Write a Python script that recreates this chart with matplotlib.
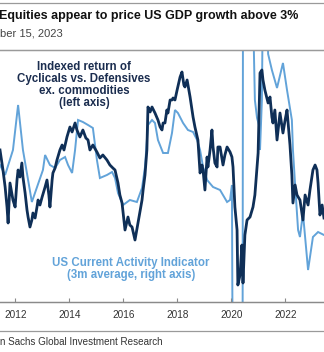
import numpy as np
import matplotlib
matplotlib.use("Agg")
import matplotlib.pyplot as plt
from matplotlib.lines import Line2D

plt.rcParams['font.family'] = ['Liberation Sans', 'DejaVu Sans']

# Indexed return of Cyclicals vs. Defensives ex. commodities (left axis)
cyc_year = [2011.43, 2011.54, 2011.62, 2011.69, 2011.73, 2011.80, 2011.91, 2011.99, 2012.06, 2012.10,
            2012.17, 2012.24, 2012.28, 2012.36, 2012.43, 2012.47, 2012.54, 2012.61, 2012.65, 2012.73,
            2012.80, 2012.84, 2012.91, 2012.99, 2013.10, 2013.17, 2013.24, 2013.28, 2013.36, 2013.39,
            2013.47, 2013.54, 2013.65, 2013.73, 2013.80, 2013.91, 2014.02, 2014.10, 2014.21, 2014.28,
            2014.39, 2014.50, 2014.61, 2014.69, 2014.76, 2014.87, 2015.02, 2015.13, 2015.24, 2015.39,
            2015.50, 2015.61, 2015.69, 2015.80, 2015.87, 2015.95, 2016.06, 2016.17, 2016.24, 2016.32,
            2016.43, 2016.54, 2016.61, 2016.69, 2016.73, 2016.80, 2016.87, 2016.91, 2016.99, 2017.06,
            2017.17, 2017.28, 2017.36, 2017.43, 2017.47, 2017.54, 2017.61, 2017.65, 2017.73, 2017.80,
            2017.84, 2017.91, 2017.99, 2018.10, 2018.17, 2018.24, 2018.28, 2018.36, 2018.47, 2018.58,
            2018.65, 2018.76, 2018.84, 2018.91, 2018.95, 2019.02, 2019.10, 2019.13, 2019.21, 2019.28,
            2019.32, 2019.39, 2019.47, 2019.50, 2019.58, 2019.69, 2019.76, 2019.84, 2019.95, 2020.02,
            2020.06, 2020.13, 2020.21, 2020.24, 2020.32, 2020.39, 2020.43, 2020.50, 2020.58, 2020.69,
            2020.80, 2020.87, 2020.95, 2020.99, 2021.06, 2021.13, 2021.17, 2021.24, 2021.36, 2021.43,
            2021.50, 2021.54, 2021.61, 2021.69, 2021.80, 2021.91, 2021.99, 2022.06, 2022.17, 2022.24,
            2022.28, 2022.36, 2022.43, 2022.54, 2022.65, 2022.73, 2022.84, 2022.91, 2023.02, 2023.10,
            2023.17, 2023.21, 2023.28, 2023.36, 2023.43]
cyc_value = [108.0, 103.0, 98.75, 93.75, 89.75, 99.75, 95.5, 93.75, 100.5, 103.0,
             101.25, 104.75, 101.25, 97.25, 93.0, 91.25, 88.75, 90.5, 92.25, 91.0,
             93.75, 95.5, 94.25, 96.25, 98.75, 100.5, 96.75, 93.75, 100.5, 102.25,
             103.5, 105.5, 108.0, 109.25, 108.0, 111.25, 113.75, 112.5, 114.75, 113.0,
             111.25, 113.0, 111.0, 110.5, 108.0, 109.25, 107.5, 106.0, 106.75, 105.5,
             104.25, 103.5, 103.0, 99.75, 96.75, 94.75, 88.0, 91.25, 89.25, 88.75,
             85.5, 89.75, 92.5, 95.5, 98.0, 101.75, 108.0, 118.75, 117.5, 118.75,
             117.25, 115.5, 113.75, 113.0, 114.75, 114.75, 118.0, 117.25, 120.5, 120.5,
             121.0, 120.5, 123.0, 126.25, 127.5, 124.25, 123.75, 125.5, 121.25, 116.25,
             113.75, 110.5, 102.25, 104.25, 103.0, 98.0, 106.25, 103.75, 108.0, 113.0,
             108.75, 104.75, 103.75, 108.75, 108.75, 104.25, 106.75, 108.75, 107.5, 106.25,
             103.75, 93.75, 88.0, 74.25, 76.75, 84.25, 74.75, 86.75, 90.5, 91.25,
             93.75, 96.75, 103.75, 107.25, 127.25, 128.0, 125.5, 123.0, 119.75, 121.25,
             116.25, 114.75, 118.0, 110.5, 117.25, 112.25, 115.5, 118.0, 109.25, 101.75,
             94.75, 99.25, 96.75, 95.5, 90.5, 96.75, 94.25, 98.0, 103.0, 104.25,
             103.0, 99.75, 91.75, 94.25, 91.0]

# US Current Activity Indicator, 3m average (right axis)
cai_year = [2011.43, 2011.62, 2011.91, 2012.10, 2012.28, 2012.61, 2013.02, 2013.10, 2013.28, 2013.47,
            2013.65, 2013.84, 2013.95, 2014.10, 2014.21, 2014.32, 2014.50, 2014.69, 2014.87, 2015.02,
            2015.13, 2015.39, 2015.58, 2015.69, 2015.80, 2015.99, 2016.24, 2016.50, 2016.69, 2016.80,
            2016.91, 2017.06, 2017.17, 2017.28, 2017.47, 2017.65, 2017.80, 2017.91, 2018.02, 2018.21,
            2018.39, 2018.58, 2018.73, 2018.84, 2018.95, 2019.10, 2019.32, 2019.58, 2019.84, 2019.95,
            2020.02, 2020.06, 2020.41, 2020.43, 2020.78, 2020.87, 2020.95, 2021.02, 2021.06, 2021.13,
            2021.17, 2021.32, 2021.36, 2021.50, 2021.69, 2021.91, 2022.06, 2022.24, 2022.28, 2022.36,
            2022.47, 2022.54, 2022.65, 2022.84, 2023.02, 2023.21, 2023.43]
cai_value = [2.85, 2.35, 3.6, 5.85, 3.6, 1.0, 2.6, 3.35, 2.85, 2.7,
             3.1, 3.25, 2.85, 2.45, 3.6, 5.1, 5.0, 4.85, 4.7, 3.1,
             2.2, 2.35, 2.5, 2.2, 1.45, 0.85, 1.1, 1.0, 1.7, 2.75,
             4.85, 5.1, 4.95, 4.1, 3.45, 3.45, 4.45, 5.6, 5.45, 4.95,
             4.6, 4.5, 4.1, 3.6, 2.75, 2.1, 1.75, 1.6, 1.0, 1.1,
             1.85, -12.0, -12.0, 12.0, 12.0, 6.1, 5.2, 4.85, 3.6, 6.1,
             12.0, 12.0, 8.4, 7.6, 6.7, 7.95, 6.6, 5.1, 3.6, 1.85,
             -0.4, -0.75, 0.45, -2.4, -0.75, -0.5, -0.65]

years = [2012, 2014, 2016, 2018, 2020, 2022]

# text as it is visible in the cropped reference
title = "Equities appear to price US GDP growth above 3%"
subtitle = "ber 15, 2023"
source = "n Sachs Global Investment Research"

dark = '#0f2f57'
light = '#62a3d9'
grey = '#9a9a9a'

fig = plt.figure(figsize=(3.24, 3.52), dpi=100)
ax = fig.add_axes([0.0, 0.142, 1.0, 0.716])
ax2 = ax.twinx()

ax2.plot(cai_year, cai_value, color=light, lw=1.4, solid_joinstyle='miter')
ax.plot(cyc_year, cyc_value, color=dark, lw=2.0)
ax.set_zorder(ax2.get_zorder() + 1)
ax.patch.set_visible(False)

ax.set_xlim(2011.43, 2023.43)
ax.set_ylim(70, 133)
ax2.set_ylim(-4, 8.6)

for a in (ax, ax2):
    a.spines['left'].set_visible(False)
    a.spines['right'].set_visible(False)
    a.spines['top'].set_color(grey)
    a.spines['top'].set_linewidth(0.9)
    a.spines['bottom'].set_color('#8a8a8a')
    a.spines['bottom'].set_linewidth(0.9)
    a.set_yticks([])

ax.set_xticks(years)
ax.set_xticklabels([str(y) for y in years])
ax.tick_params(axis='x', direction='in', length=3, color='#8a8a8a', labelsize=7.2,
               labelcolor='#333333', pad=6)

ax.text(0.259, 0.861, "Indexed return of\nCyclicals vs. Defensives\nex. commodities\n(left axis)",
        transform=ax.transAxes, ha='center', va='center', fontsize=8.3, fontweight='bold',
        color='#1b2d4f', linespacing=1.0)
ax.text(0.404, 0.131, "US Current Activity Indicator\n(3m average, right axis)",
        transform=ax.transAxes, ha='center', va='center', fontsize=8.3, fontweight='bold',
        color=light, linespacing=1.0)

fig.text(-0.004, 0.9545, title, ha='left', va='center', fontsize=9, fontweight='bold', color='#111111')
fig.text(63 / 324, 0.906, subtitle, ha='right', va='center', fontsize=8, color='#444444')
fig.text(163 / 324, 10 / 352, source, ha='right', va='center', fontsize=7.1, color='#333333')

fig.add_artist(Line2D([0, 1], [0.9915, 0.9915], color=grey, lw=0.9, transform=fig.transFigure))
fig.add_artist(Line2D([0, 1], [0.0597, 0.0597], color=grey, lw=0.9, transform=fig.transFigure))

fig.savefig("out.png", dpi=100)
